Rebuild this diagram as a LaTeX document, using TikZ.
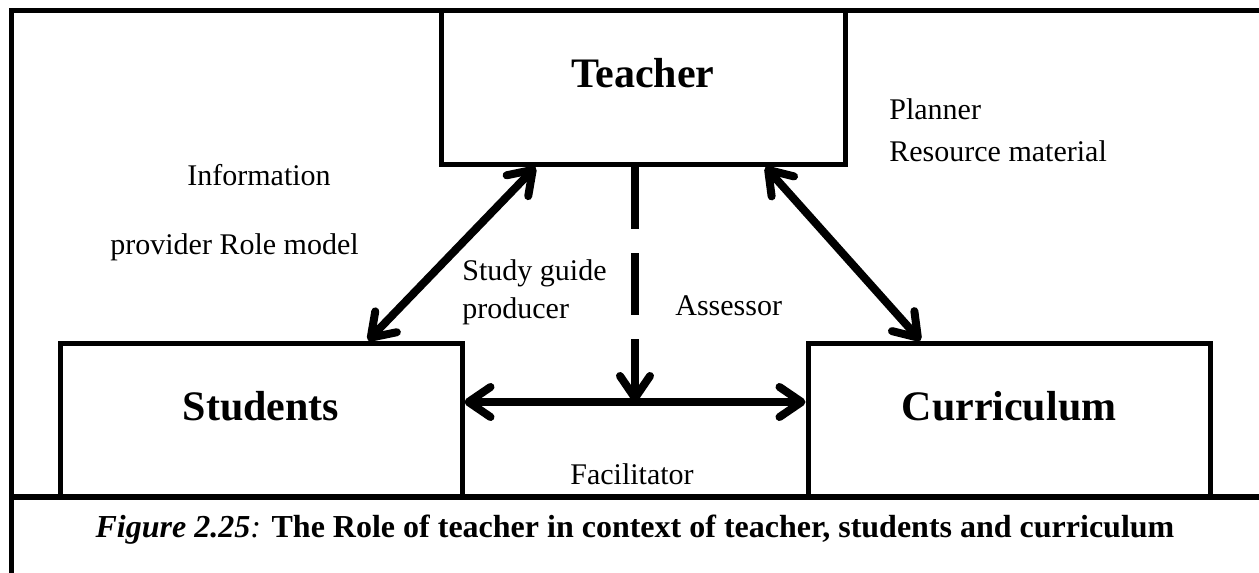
\documentclass[tikz,border=0pt]{standalone}
\usepackage{fontspec}
\setmainfont{Liberation Serif}
\usetikzlibrary{calc,arrows.meta}

\begin{document}
\begin{tikzpicture}[x=0.5pt,y=-0.5pt,
    main node/.style={rectangle,draw,line width=2.5pt,inner sep=0pt,minimum width=201pt,
                      text height=38.5pt,text depth=38.5pt,font=\fontsize{21}{25}\selectfont\bfseries},
    role node/.style={anchor=base west,inner sep=0pt,font=\fontsize{15}{18}\selectfont},
    role arrow/.style={line width=4pt,{Straight Barb[length=11pt,width=15pt,round]}-{Straight Barb[length=11pt,width=15pt,round]}}]

 \useasboundingbox (0,0) rectangle (1259,573);

 % frame of the figure
 \draw[line width=2.5pt] (11,573) -- (11,10) -- (1259,10);
 \draw[line width=3pt] (11,497) -- (1259,497);

 \node[main node,minimum width=202pt] (teacher) at (643,87.5) {Teacher};

 \node[main node] (students) at (261,420) {Students};

 \node[main node] (curriculum) at (1009,420) {Curriculum};

 \node[role node] (info) at (187,185) {Information};
 \node[role node] (provider) at (110,254) {provider Role model};

 \node[role node] (study) at (462,280) {Study guide};
 \node[role node] (producer) at (462,318) {producer};

 \node[role node] (assessor) at (675,315) {Assessor};

 \node[role node] (planner) at (889,119) {Planner};
 \node[role node] (resource) at (889,161) {Resource material};

 \node[role node,anchor=base] (facilitator) at (632,484) {Facilitator};

 \path[role arrow]
    ($(teacher.south west)+(97,0)$) edge ($(students.north)+(107,0)$)
    ($(teacher.south east)+(-82,0)$) edge ($(curriculum.north west)+(115,0)$);

 \draw[role arrow] ($(students.east)+(0,-18)$) -- coordinate (hub) ($(curriculum.west)+(0,-18)$);

 \draw[line width=4pt,dash pattern=on 31pt off 12pt,-{Straight Barb[length=11pt,width=15pt,round]}]
    (teacher.south -| hub) -- (hub);

 \node[anchor=base,inner sep=0pt,font=\fontsize{16}{19}\selectfont] (caption) at (635,537)
    {\textbf{\textit{Figure 2.25}}\textit{:} \textbf{The Role of teacher in context of teacher, students and curriculum}};

\end{tikzpicture}
\end{document}
